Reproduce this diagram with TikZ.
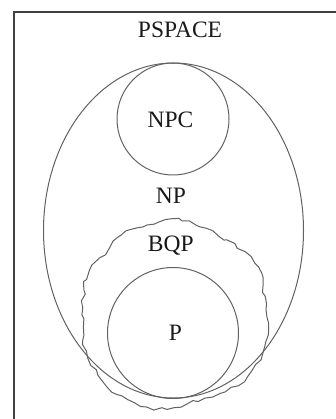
\documentclass[tikz,border=0pt]{standalone}
\usepackage{fontspec}
\setmainfont{Liberation Serif}
\usetikzlibrary{decorations.pathmorphing,shapes.geometric}
\begin{document}
\begin{tikzpicture}[x=1pt,y=-1pt,
  setline/.style={draw=black!62, line width=1pt},
  classname/.style={font=\fontsize{23.5}{28}\selectfont, text=black!90,
    inner sep=0pt, text height=15.5pt, text depth=0pt},
  blob/.style={setline, line join=round, decorate,
    decoration={random steps, segment length=6.5pt, amplitude=2.2pt}}]
\useasboundingbox (0,0) rectangle (335,419);
\pgfmathsetseed{11}
% frame (only its top and left sides fall inside the page)
\draw[black!75, line width=1.6pt] (14,430) -- (14,12) -- (345,12);
% PSPACE label
\node[classname] (pspace) at (180,29.5) {PSPACE};
% NP ellipse
\node[setline, ellipse, minimum width=260pt, minimum height=335pt, inner sep=0pt] (np) at (173.5,230.5) {};
% NP-complete circle
\node[setline, circle, minimum size=112pt, inner sep=0pt] (npc) at (173,119) {};
\node[classname] (npclabel) at (170.5,119.7) {NPC};
\node[classname] (nplabel) at (170.8,195.3) {NP};
% BQP irregular region
\draw[blob] plot[smooth cycle, tension=0.5] coordinates {
  (110,247) (120,236) (130,230) (147,225) (165,220) (182,221) (200,227) (227,240)
  (245,252) (258,267) (263,285) (266,310) (268,335) (263,352) (252,370)
  (238,385) (205,398) (167,409) (135,403) (112,392) (98,375) (88,358)
  (83,340) (82,315) (84,290) (90,270) (100,258)};
\node[classname] (bqplabel) at (170.8,243.3) {BQP};
% P circle
\node[setline, circle, minimum size=131pt, inner sep=0pt] (p) at (173,333) {};
\node[classname] (plabel) at (175.5,332.7) {P};
\end{tikzpicture}
\end{document}
